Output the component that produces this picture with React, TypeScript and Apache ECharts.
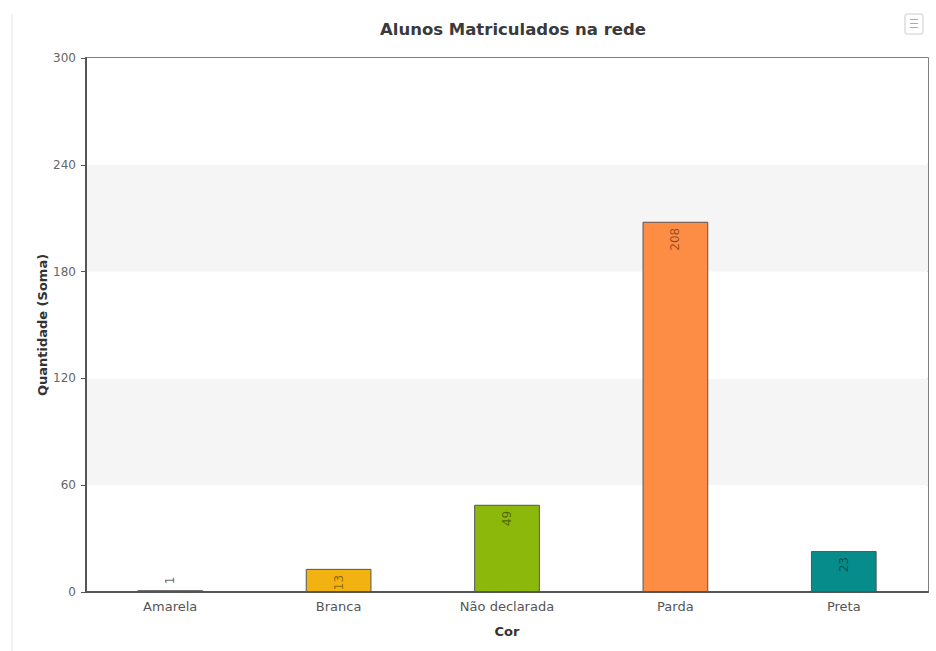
import React, { useEffect, useRef } from "react";
import * as echarts from "echarts";

const categories = ["Amarela", "Branca", "Não declarada", "Parda", "Preta"];
const values = [1, 13, 49, 208, 23];
const barColors = ["#333333", "#f2b312", "#8cb80c", "#fd8c45", "#078c8c"];
const yTicks = { min: 0, max: 300, interval: 60 };

export default function App() {
  const ref = useRef<HTMLDivElement>(null);
  useEffect(() => {
    document.body.style.margin = "0";
    const chart = echarts.init(ref.current!, null, { renderer: "svg" });
    const font = "DejaVu Sans";
    chart.setOption({
      animation: false,
      backgroundColor: "#ffffff",
      title: {
        text: "Alunos Matriculados na rede",
        left: 508,
        top: 16,
        textAlign: "center",
        textStyle: { fontFamily: font, fontSize: 16.5, fontWeight: "bold", color: "#3a3a3a" },
      },
      grid: {
        left: 86,
        right: 8,
        top: 58,
        bottom: 59,
        show: true,
        borderColor: "#555",
        borderWidth: 1.5,
        backgroundColor: "transparent",
      },
      xAxis: {
        type: "category",
        data: categories,
        name: "Cor",
        nameLocation: "middle",
        nameGap: 33,
        nameTextStyle: { fontFamily: font, fontSize: 13, fontWeight: "bold", color: "#333" },
        axisLine: { lineStyle: { color: "#555", width: 2 } },
        axisTick: { show: false },
        axisLabel: { fontFamily: font, fontSize: 13, color: "#555", margin: 8 },
      },
      yAxis: {
        type: "value",
        min: yTicks.min,
        max: yTicks.max,
        interval: yTicks.interval,
        name: "Quantidade (Soma)",
        nameLocation: "middle",
        nameGap: 44,
        nameMoveOverlap: false,
        nameTextStyle: { fontFamily: font, fontSize: 13, fontWeight: "bold", color: "#333", verticalAlign: "middle" },
        axisLine: { show: true, lineStyle: { color: "#555", width: 2 } },
        axisTick: { show: true, length: 5, lineStyle: { color: "#555" } },
        axisLabel: { fontFamily: font, fontSize: 12, color: "#666", margin: 10 },
        splitLine: { show: false },
        splitArea: { show: true, areaStyle: { color: ["#ffffff", "#f5f5f5"] } },
      },
      series: [
        {
          type: "bar",
          barWidth: "39%",
          data: values.map((v, i) => ({
            value: v,
            itemStyle: { color: barColors[i], borderColor: "#555", borderWidth: 1 },
            label:
              v < 5
                ? { position: "top", distance: 6, align: "left", verticalAlign: "middle", color: "rgba(60,60,60,0.8)" }
                : undefined,
          })),
          label: {
            show: true,
            position: "insideTop",
            rotate: 90,
            distance: 6,
            align: "right",
            verticalAlign: "middle",
            fontFamily: font,
            fontSize: 12,
            color: "rgba(0,0,0,0.45)",
          },
        },
      ],
      graphic: [
        { type: "line", shape: { x1: 12, y1: 14, x2: 12, y2: 651 }, style: { stroke: "#e6e6e6", lineWidth: 1 } },
        {
          type: "rect",
          shape: { x: 905, y: 14, width: 18, height: 20, r: 2 },
          style: { fill: "#fff", stroke: "#ccc", lineWidth: 1 },
        },
        { type: "line", shape: { x1: 910, y1: 19.5, x2: 918, y2: 19.5 }, style: { stroke: "#aaa", lineWidth: 1 } },
        { type: "line", shape: { x1: 910, y1: 23.5, x2: 918, y2: 23.5 }, style: { stroke: "#aaa", lineWidth: 1 } },
        { type: "line", shape: { x1: 910, y1: 27.5, x2: 918, y2: 27.5 }, style: { stroke: "#aaa", lineWidth: 1 } },
      ],
    });
    return () => chart.dispose();
  }, []);
  return <div ref={ref} style={{ width: 936, height: 651 }} />;
}
